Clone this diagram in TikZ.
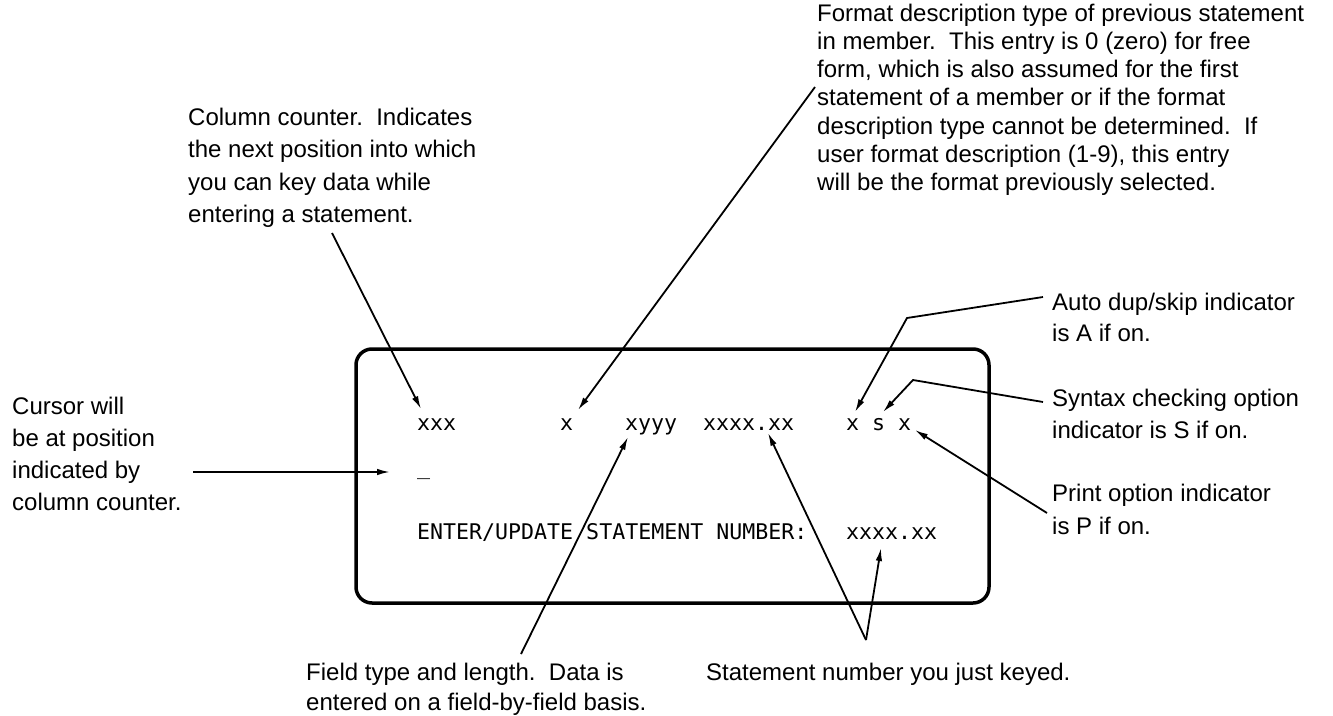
\documentclass[tikz,border=0pt]{standalone}
\usepackage{fontspec}
\setmainfont{Liberation Sans}
\newfontfamily\scrfont{DejaVu Sans Mono}
\usetikzlibrary{arrows.meta}
\newcommand\lstrut{\rule{0pt}{20pt}}
\begin{document}
\begin{tikzpicture}[x=1pt,y=-1pt,
  lbl/.style={anchor=north west, inner sep=0pt, align=left, font=\fontsize{24}{32.5}\selectfont},
  scr/.style={anchor=base west, inner sep=0pt, font=\fontsize{21.6}{26}\scrfont},
  ptr/.style={line width=1.8pt, -{Latex[length=13pt,width=6.5pt]}},
  lead/.style={line width=1.8pt},
  screenbox/.style={draw, line width=3.5pt, rounded corners=16pt, inner sep=0pt,
                    minimum width=633pt, minimum height=254pt}]
\useasboundingbox (0,0) rectangle (1333,715);

% screen
\node[screenbox] (screen) at (672.5,476) {};

% screen contents (column pitch 13)
\node[scr] (r1a) at (417,430) {xxx};
\node[scr] (r1b) at (560,430) {x};
\node[scr] (r1c) at (625,430) {xyyy};
\node[scr] (r1d) at (703,430) {xxxx.xx};
\node[scr] (r1e) at (846,430) {x};
\node[scr] (r1f) at (872,430) {s};
\node[scr] (r1g) at (898,430) {x};
\node[scr] (cur) at (417,474) {\textunderscore};
\node[scr] (r3a) at (417,539) {ENTER/UPDATE STATEMENT NUMBER:};
\node[scr] (r3b) at (846,539) {xxxx.xx};

% annotations
\node[lbl] (colc) at (188,105) {\lstrut Column counter.\ \ Indicates\\the next position into which\\you can key data while\\entering a statement.};
\node[lbl, font=\fontsize{24}{28.2}\selectfont] (fmt) at (817,1) {\lstrut Format description type of previous statement\\in member.\ \ This entry is 0 (zero) for free\\form, which is also assumed for the first\\statement of a member or if the format\\description type cannot be determined.\ \ If\\user format description (1-9), this entry\\will be the format previously selected.};
\node[lbl, font=\fontsize{24}{31}\selectfont] (auto) at (1052,290) {\lstrut Auto dup/skip indicator\\is A if on.};
\node[lbl, font=\fontsize{24}{32}\selectfont] (synt) at (1052,386) {\lstrut Syntax checking option\\indicator is S if on.};
\node[lbl, font=\fontsize{24}{33}\selectfont] (prnt) at (1052,481) {\lstrut Print option indicator\\is P if on.};
\node[lbl, font=\fontsize{24}{32}\selectfont] (curs) at (12,394) {\lstrut Cursor will\\be at position\\indicated by\\column counter.};
\node[lbl, font=\fontsize{24}{30}\selectfont] (fld) at (306,660) {\lstrut Field type and length.\ \ Data is\\entered on a field-by-field basis.};
\node[lbl] (stmt) at (706,660) {\lstrut Statement number you just keyed.};

% connector points
\coordinate (c1s) at (332,233);  \coordinate (c1t) at (421,409);
\coordinate (f1s) at (815,87);   \coordinate (f1t) at (578,410);
\coordinate (a1s) at (1043,297); \coordinate (a1b) at (907,318); \coordinate (a1t) at (855,412);
\coordinate (s1s) at (1043,402); \coordinate (s1b) at (913,380); \coordinate (s1t) at (883,412);
\coordinate (p1s) at (1047,513); \coordinate (p1t) at (915,430);
\coordinate (k1s) at (193,472);  \coordinate (k1t) at (390,472);
\coordinate (d1s) at (521,654);  \coordinate (d1t) at (628,437);
\coordinate (n1s) at (866,640);  \coordinate (n1t) at (768,433); \coordinate (n2t) at (881,548);

\draw[ptr] (c1s) -- (c1t);
\draw[ptr] (f1s) -- (f1t);
\draw[ptr] (a1s) -- (a1b) -- (a1t);
\draw[ptr] (s1s) -- (s1b) -- (s1t);
\draw[ptr] (p1s) -- (p1t);
\draw[ptr] (k1s) -- (k1t);
\draw[ptr] (d1s) -- (d1t);
\draw[ptr] (n1s) -- (n1t);
\draw[ptr] (n1s) -- (n2t);
\end{tikzpicture}
\end{document}
